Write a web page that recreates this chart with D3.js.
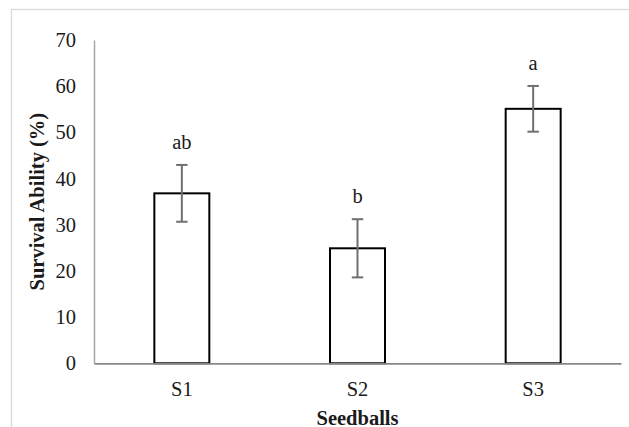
<!DOCTYPE html>
<html>
<head>
<meta charset="utf-8">
<script src="https://cdn.jsdelivr.net/npm/d3@7"></script>
<style>
  body { margin: 0; background: #fff; }
  svg { display: block; }
  text { font-family: "Liberation Serif", "Times New Roman", serif; fill: #1a1a1a; }
</style>
</head>
<body>
<div id="chart"></div>
<script>
// Survival ability per seedball type (mean +/- error)
var categories = ["S1", "S2", "S3"];
var means = [36.8, 24.9, 55.1];
var errors = [6.15, 6.3, 4.95];
var letters = ["ab", "b", "a"];
var yTicks = [0, 10, 20, 30, 40, 50, 60, 70];

var data = categories.map(function(c, i) {
  return { name: c, value: means[i], err: errors[i], letter: letters[i] };
});

var width = 629,
  height = 427,
  margin = { top: 40, right: 8, bottom: 63.7, left: 94 };

var svg = d3.select("#chart").append("svg")
  .attr("width", width)
  .attr("height", height);

// outer frame (cut off on the right and bottom, as in the picture)
svg.append("rect")
  .attr("x", 11.5)
  .attr("y", 9.5)
  .attr("width", 660)
  .attr("height", 460)
  .style("fill", "none")
  .style("stroke", "#d9d9d9")
  .style("stroke-width", 1.3);

var x = d3.scaleBand()
  .domain(categories)
  .range([margin.left, width - margin.right])
  .paddingInner(0.687)
  .paddingOuter(0.3435);

var y = d3.scaleLinear()
  .domain([0, 70])
  .range([height - margin.bottom, margin.top]);

var fontSize = "20.5px";

// y axis
var yAxis = svg.append("g")
  .attr("transform", "translate(" + margin.left + ",0)")
  .call(d3.axisLeft(y).tickValues(yTicks).tickSize(0).tickSizeOuter(0).tickPadding(18));
yAxis.select(".domain").style("stroke", "#a6a6a6").style("stroke-width", 1.5);
yAxis.selectAll("text").style("font-size", fontSize).style("font-family", "Liberation Serif, serif");

// bars
svg.selectAll(".bar")
  .data(data)
  .enter().append("rect")
  .attr("class", "bar")
  .attr("x", function(d) { return x(d.name); })
  .attr("y", function(d) { return y(d.value); })
  .attr("width", x.bandwidth())
  .attr("height", function(d) { return y(0) - y(d.value); })
  .style("fill", "#fff")
  .style("stroke", "#000")
  .style("stroke-width", 2);

// x axis (drawn after bars so the line sits on top)
var xAxis = svg.append("g")
  .attr("transform", "translate(0," + y(0) + ")")
  .call(d3.axisBottom(x).tickSize(0).tickSizeOuter(0).tickPadding(18));
xAxis.select(".domain").style("stroke", "#878787").style("stroke-width", 1.8);
xAxis.selectAll("text").style("font-size", fontSize).style("font-family", "Liberation Serif, serif");

// error bars
var capHalf = 5.7;
var eb = svg.selectAll(".err")
  .data(data)
  .enter().append("g")
  .attr("class", "err")
  .style("stroke", "#6f6f6f")
  .style("stroke-width", 2);

eb.append("line")
  .attr("x1", function(d) { return x(d.name) + x.bandwidth() / 2; })
  .attr("x2", function(d) { return x(d.name) + x.bandwidth() / 2; })
  .attr("y1", function(d) { return y(d.value - d.err); })
  .attr("y2", function(d) { return y(d.value + d.err); });

eb.append("line")
  .attr("x1", function(d) { return x(d.name) + x.bandwidth() / 2 - capHalf; })
  .attr("x2", function(d) { return x(d.name) + x.bandwidth() / 2 + capHalf; })
  .attr("y1", function(d) { return y(d.value + d.err); })
  .attr("y2", function(d) { return y(d.value + d.err); });

eb.append("line")
  .attr("x1", function(d) { return x(d.name) + x.bandwidth() / 2 - capHalf; })
  .attr("x2", function(d) { return x(d.name) + x.bandwidth() / 2 + capHalf; })
  .attr("y1", function(d) { return y(d.value - d.err); })
  .attr("y2", function(d) { return y(d.value - d.err); });

// significance letters
svg.selectAll(".letter")
  .data(data)
  .enter().append("text")
  .attr("class", "letter")
  .attr("x", function(d) { return x(d.name) + x.bandwidth() / 2; })
  .attr("y", function(d) { return y(d.value + d.err) - 16; })
  .style("text-anchor", "middle")
  .style("font-size", fontSize)
  .text(function(d) { return d.letter; });

// axis titles
svg.append("text")
  .attr("transform", "translate(44," + ((y(0) + y(70)) / 2) + ") rotate(-90)")
  .style("text-anchor", "middle")
  .style("font-weight", "bold")
  .style("font-size", "20.5px")
  .text("Survival Ability (%)");

svg.append("text")
  .attr("x", (margin.left + width - margin.right) / 2)
  .attr("y", 424.5)
  .style("text-anchor", "middle")
  .style("font-weight", "bold")
  .style("font-size", "20.5px")
  .text("Seedballs");
</script>
</body>
</html>
